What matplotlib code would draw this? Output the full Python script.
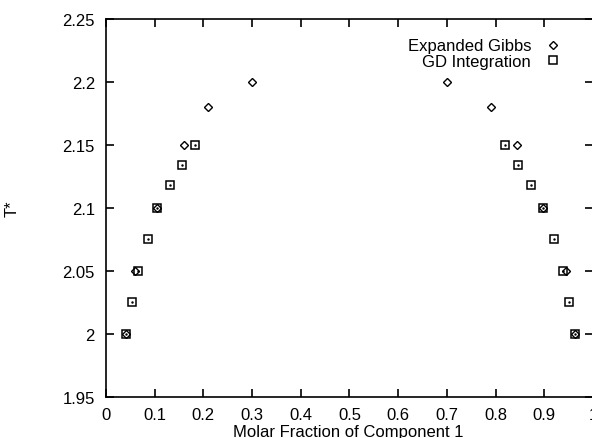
import matplotlib.pyplot as plt

# Expanded Gibbs ensemble points
gibbs_x = [0.041, 0.06, 0.105, 0.161, 0.21, 0.30, 0.70, 0.79, 0.843, 0.897, 0.944, 0.963]
gibbs_t = [2.0, 2.05, 2.1, 2.15, 2.18, 2.2, 2.2, 2.18, 2.15, 2.1, 2.05, 2.0]

# Gibbs-Duhem integration points
gd_x = [0.041, 0.053, 0.066, 0.086, 0.105, 0.132, 0.157, 0.182,
        0.82, 0.845, 0.872, 0.897, 0.92, 0.938, 0.95, 0.963]
gd_t = [2.0, 2.025, 2.05, 2.075, 2.1, 2.118, 2.134, 2.15,
        2.15, 2.134, 2.118, 2.1, 2.075, 2.05, 2.025, 2.0]

xticks = [0, 0.1, 0.2, 0.3, 0.4, 0.5, 0.6, 0.7, 0.8, 0.9, 1]
xticklabels = ['0', '0.1', '0.2', '0.3', '0.4', '0.5', '0.6', '0.7', '0.8', '0.9', '1']
yticks = [1.95, 2.0, 2.05, 2.1, 2.15, 2.2, 2.25]
yticklabels = ['1.95', '2', '2.05', '2.1', '2.15', '2.2', '2.25']

plt.rcParams['font.family'] = ['Liberation Sans', 'DejaVu Sans']
plt.rcParams['font.size'] = 12

fig = plt.figure(figsize=(5.92, 4.39), dpi=100)
ax = fig.add_axes([106 / 592, 41 / 439, 487 / 592, 378 / 439])

ax.plot(gibbs_x, gibbs_t, linestyle='none', marker='D', markersize=4.3,
        markerfacecolor='white', markeredgecolor='black', markeredgewidth=1.0,
        label='Expanded Gibbs')
ax.plot(gd_x, gd_t, linestyle='none', marker='s', markersize=5.8,
        markerfacecolor='none', markeredgecolor='black', markeredgewidth=1.1,
        label='GD Integration')
ax.plot(gd_x, gd_t, linestyle='none', marker='.', markersize=1.5, color='black')

ax.set_xlim(0, 1)
ax.set_ylim(1.95, 2.25)
ax.set_xticks(xticks)
ax.set_xticklabels(xticklabels)
ax.set_yticks(yticks)
ax.set_yticklabels(yticklabels)
ax.tick_params(axis='x', direction='in', top=True, length=6, width=1.2, pad=7)
ax.tick_params(axis='y', direction='in', right=True, length=6, width=1.2, pad=8)
for s in ax.spines.values():
    s.set_linewidth(1.2)

ax.set_xlabel('Molar Fraction of Component 1')
ax.xaxis.set_label_coords(0.497, -0.072)
ax.set_ylabel('T*')
ax.yaxis.set_label_coords(-0.177, 0.5)

ax.legend(loc='upper right', bbox_to_anchor=(0.955, 0.975), frameon=False,
          markerfirst=False, handlelength=1.0, handletextpad=0.8,
          labelspacing=0.05, borderaxespad=0.2, fontsize=12)

fig.savefig('out.png', dpi=100)
